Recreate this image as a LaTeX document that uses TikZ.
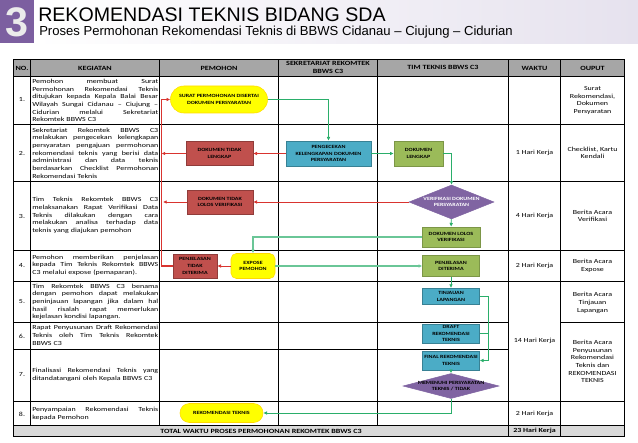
\documentclass[tikz,border=0pt]{standalone}
\usepackage{fontspec}
\setmainfont{Carlito}
\newfontfamily\titlefont{Liberation Sans}
\newfontfamily\widefont[FakeStretch=1.27]{Carlito}
\newfontfamily\flowfont[FakeStretch=1.26]{Carlito}
\usepackage{xcolor}
\usetikzlibrary{shapes.geometric,arrows.meta}
\definecolor{hdrgray}{HTML}{A6A6A6}
\definecolor{totgray}{HTML}{D9D9D9}
\definecolor{boxred}{HTML}{C0504D}
\definecolor{boxblue}{HTML}{4BACC6}
\definecolor{boxgreen}{HTML}{9BBB59}
\definecolor{boxpurple}{HTML}{8064A2}
\definecolor{boxyellow}{HTML}{FFFF00}
\definecolor{linegreen}{HTML}{2AAE6A}
\definecolor{linered}{HTML}{D9342F}
\definecolor{badge}{HTML}{7C5FA0}
\definecolor{band}{HTML}{E6E2EE}
\newcommand{\jl}[1]{\leavevmode\hbox to 94.5pt{\spaceskip=.25em plus 1fil\relax #1}\\}
\tikzset{
  hdr/.style={font=\widefont\bfseries\fontsize{4.8}{6}\selectfont,align=center,inner sep=0.75pt},
  keg/.style={font=\widefont\fontsize{4.7}{5.75}\selectfont,text width=94.5pt,inner sep=0pt,anchor=west},
  cel/.style={font=\widefont\fontsize{4.7}{5.75}\selectfont,align=center,inner sep=0.75pt},
  flowtext/.style={font=\flowfont\bfseries\fontsize{3.6}{5}\selectfont,align=center,inner sep=0pt},
  flowred/.style={flowtext,draw=boxred!75!black,fill=boxred,minimum width=#1*0.75pt},
  flowblue/.style={flowtext,draw=boxblue!75!black,fill=boxblue,minimum width=#1*0.75pt},
  flowgreen/.style={flowtext,draw=boxgreen!80!black,fill=boxgreen,minimum width=#1*0.75pt},
  flowyellow/.style={flowtext,draw=boxyellow!70!orange,fill=boxyellow,minimum width=#1*0.75pt},
  flowdec/.style={diamond,aspect=#1,draw=boxpurple,fill=boxpurple,inner sep=0pt},
  okline/.style={draw=linegreen,line width=0.7pt,-{Latex[length=2.8pt,width=2.8pt]}},
  noline/.style={draw=linered,line width=0.7pt,-{Latex[length=2.8pt,width=2.8pt]}},
  grid/.style={draw=black,line width=0.7pt}
}
\begin{document}
\begin{tikzpicture}[x=0.75pt,y=0.75pt,yscale=-1,xscale=1]
\useasboundingbox (0,0) rectangle (638,442);
\shade[left color=white,right color=band] (34,0) rectangle (638,44);
\fill[badge] (0,0) rectangle (34,43.5);
\node (num) at (17,22) [text=white!92!black,font=\titlefont\bfseries\fontsize{31}{31}\selectfont,inner sep=0pt] {3};
\node (judul) at (38,15) [anchor=west,inner sep=0pt,font=\titlefont\fontsize{14.7}{18}\selectfont] {REKOMENDASI TEKNIS BIDANG SDA};
\node (subjudul) at (39,32) [anchor=west,inner sep=0pt,font=\titlefont\fontsize{9.8}{12}\selectfont] {Proses Permohonan Rekomendasi Teknis di BBWS Cidanau – Ciujung – Cidurian};
\fill[hdrgray] (13.5,59.5) rectangle (624.5,76.5);
\fill[totgray] (13.5,425) rectangle (624.5,436.5);
\draw[grid] (13.5,59.5) rectangle (624.5,436.5);
\foreach \yy in {76.5,124.5,181,250,281,401,425}
  \draw[grid] (13.5,\yy) -- (624.5,\yy);
\foreach \yy in {322,349}
  \draw[grid] (13.5,\yy) -- (508.5,\yy);
\draw[grid] (560.5,322) -- (624.5,322);
\foreach \xx in {30.5,159.5,278.5,377.5}
  \draw[grid] (\xx,59.5) -- (\xx,425);
\draw[grid] (508.5,59.5) -- (508.5,436.5);
\draw[grid] (560.5,59.5) -- (560.5,436.5);
\draw (22,68) node (hno) [hdr] {NO.};
\draw (95,68) node (hkeg) [hdr] {KEGIATAN};
\draw (219,68) node (hpem) [hdr] {PEMOHON};
\draw (328,67) node (hsek) [hdr] {SEKRETARIAT REKOMTEK\\BBWS C3};
\draw (443,67) node (htim) [hdr] {TIM TEKNIS BBWS C3};
\draw (534.5,68) node (hwak) [hdr] {WAKTU};
\draw (592.5,68) node (hout) [hdr] {OUPUT};
\foreach \nama/\yy/\nn in {n1/100/1,n2/153/2,n3/216/3,n4/266/4,n5/302/5,n6/336/6,n7/375/7,n8/414/8}
  \node (\nama) at (22,\yy) [cel] {\nn.};
\node (keg1) at (32,100.5) [keg] {\jl{Pemohon membuat Surat}\jl{Permohonan Rekomendasi Teknis}\jl{ditujukan kepada Kepala Balai Besar}\jl{Wilayah Sungai Cidanau – Ciujung –}\jl{Cidurian melalui Sekretariat}Rekomtek BBWS C3};
\node (keg2) at (32,153) [keg] {\jl{Sekretariat Rekomtek BBWS C3}\jl{melakukan pengecekan kelengkapan}\jl{persyaratan pengajuan permohonan}\jl{rekomendasi teknis yang berisi data}\jl{administrasi dan data teknis}\jl{berdasarkan Checklist Permohonan}Rekomendasi Teknis};
\node (keg3) at (32,215.5) [keg] {\jl{Tim Teknis Rekomtek BBWS C3}\jl{melaksanakan Rapat Verifikasi Data}\jl{Teknis dilakukan dengan cara}\jl{melakukan analisa terhadap data}teknis yang diajukan pemohon};
\node (keg4) at (32,265) [keg] {\jl{Pemohon memberikan penjelasan}\jl{kepada Tim Teknis Rekomtek BBWS}C3 melalui expose (pemaparan).};
\node (keg5) at (32,302) [keg] {\jl{Tim Rekomtek BBWS C3 benama}\jl{dengan pemohon dapat melakukan}\jl{peninjauan lapangan jika dalam hal}\jl{hasil risalah rapat memerlukan}kejelasan kondisi lapangan.};
\node (keg6) at (32,335.5) [keg] {\jl{Rapat Penyusunan Draft Rekomendasi}\jl{Teknis oleh Tim Teknis Rekomtek}BBWS C3};
\node (keg7) at (32,375) [keg] {\jl{Finalisasi Rekomendasi Teknis yang}ditandatangani oleh Kepala BBWS C3};
\node (keg8) at (32,413.5) [keg] {\jl{Penyampaian Rekomendasi Teknis}kepada Pemohon};
\node (wak2) at (534.5,153) [cel] {1 Hari Kerja};
\node (wak3) at (534.5,216) [cel] {4 Hari Kerja};
\node (wak4) at (534.5,266) [cel] {2 Hari Kerja};
\node (wak5) at (534.5,341) [cel] {14 Hari Kerja};
\node (wak8) at (534.5,414) [cel] {2 Hari Kerja};
\node (wak9) at (534.5,431) [cel,font=\widefont\bfseries\fontsize{4.7}{5.75}\selectfont] {23 Hari Kerja};
\node (out1) at (592.5,100.5) [cel] {Surat\\Rekomendasi,\\Dokumen\\Persyaratan};
\node (out2) at (592.5,153) [cel] {Checklist, Kartu\\Kendali};
\node (out3) at (592.5,216) [cel] {Berita Acara\\Verifikasi};
\node (out4) at (592.5,266) [cel] {Berita Acara\\Expose};
\node (out5) at (592.5,303) [cel] {Berita Acara\\Tinjauan\\Lapangan};
\node (out6) at (592.5,361.5) [cel] {Berita Acara\\Penyusunan\\Rekomendasi\\Teknis dan\\REKOMENDASI\\TEKNIS};
\node (total) at (261,431) [hdr] {TOTAL WAKTU PROSES PERMOHONAN REKOMTEK BBWS C3};
\node (surat) at (219,99.5) [flowyellow=97,rounded corners=10pt,minimum height=27*0.75pt] {SURAT PERMOHONAN DISERTAI\\DOKUMEN PERSYARATAN};
\node (cek) at (328.5,153.5) [flowblue=85,minimum height=25*0.75pt] {PENGECEKAN\\KELENGKAPAN DOKUMEN\\PERSYARATAN};
\node (lengkap) at (418.5,153.5) [flowgreen=49,minimum height=25*0.75pt] {DOKUMEN\\LENGKAP};
\node (tlengkap) at (219.5,153.5) [flowred=67,minimum height=24*0.75pt] {DOKUMEN TIDAK\\LENGKAP};
\node (verif) at (451.5,202) [flowdec=2.5,minimum width=85*0.75pt,minimum height=34*0.75pt] {};
\node (veriftxt) at (verif) [flowtext,text=white] {VERIFIKASI DOKUMEN\\PERSYARATAN};
\node (lolos) at (451,237) [flowgreen=58,minimum height=20*0.75pt] {DOKUMEN LOLOS\\VERIFIKASI};
\node (tlolos) at (220,202) [flowred=66,minimum height=24*0.75pt] {DOKUMEN TIDAK\\LOLOS VERIFIKASI};
\node (tditerima) at (195,266) [flowred=44,minimum height=24*0.75pt] {PENJELASAN\\TIDAK\\DITERIMA};
\node (expose) at (253,266) [flowyellow=44,rounded corners=4pt,minimum height=25*0.75pt] {EXPOSE\\PEMOHON};
\node (diterima) at (451,266) [flowgreen=57,minimum height=21*0.75pt] {PENJELASAN\\DITERIMA};
\node (tinjau) at (451,296.5) [flowblue=57,minimum height=16.5*0.75pt] {TINJAUAN\\LAPANGAN};
\node (draft) at (451,333.5) [flowblue=57,minimum height=19*0.75pt] {DRAFT\\REKOMENDASI\\TEKNIS};
\node (final) at (451,360.5) [flowblue=57,minimum height=19*0.75pt] {FINAL REKOMENDASI\\TEKNIS};
\node (syarat) at (451,386) [flowdec=3.84,minimum width=96*0.75pt,minimum height=25*0.75pt] {};
\node (syarattxt) at (syarat) [flowtext] {MEMENUHI PERSYARATAN\\TEKNIS / TIDAK};
\node (rekom) at (221.5,413) [flowyellow=83,rounded corners=7pt,minimum height=19*0.75pt] {REKOMENDASI TEKNIS};
\draw[okline] (surat.east) -| (cek.north);
\draw[okline] (cek) -- (lengkap);
\draw[okline] (lengkap.east) -| (verif.north);
\draw[okline] (verif) -- (lolos);
\draw[okline,line width=0.9pt,draw=linegreen!70] (lolos.west) -| (expose.north);
\draw[okline,line width=0.9pt,draw=linegreen!70] (expose) -- (diterima);
\draw[okline] (diterima) -- (tinjau);
\draw[okline] (tinjau.east) -- ++(9,0) |- (final.east);
\draw[linegreen,line width=0.7pt] (draft.east) -- ++(9,0);
\draw[okline] (final) -- (syarat);
\draw[okline] (syarat.south) |- (rekom.east);
\draw[noline] (cek) -- (tlengkap);
\draw[noline] (verif) -- (tlolos);
\draw[noline] (expose) -- (tditerima);
\draw[noline] (tlengkap.west) -- (161.5,153.5);
\draw[noline] (tlolos.west) -- (163,202);
\draw[noline,line width=1pt] (tditerima.west) -- (161.5,266) |- (surat.west);
\end{tikzpicture}
\end{document}
